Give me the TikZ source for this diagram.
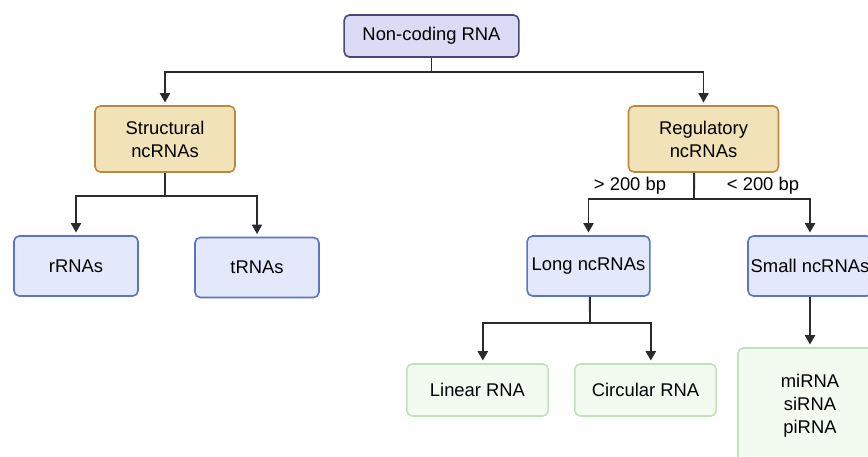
\documentclass[tikz,border=0pt]{standalone}
\usepackage{fontspec}
\setmainfont{Liberation Sans}
\usetikzlibrary{arrows.meta}

\definecolor{lavfill}{HTML}{DDDAF6}
\definecolor{lavline}{HTML}{4B4775}
\definecolor{sandfill}{HTML}{F2E2B8}
\definecolor{sandline}{HTML}{B98A3E}
\definecolor{bluefill}{HTML}{E3E8FA}
\definecolor{blueline}{HTML}{5A74C8}
\definecolor{greenfill}{HTML}{F3FBF1}
\definecolor{greenline}{HTML}{BFE3B8}
\definecolor{wire}{HTML}{2B2B2B}

\begin{document}
\begin{tikzpicture}[x=0.75pt, y=-0.75pt, font=\fontsize{13.8}{17.25}\selectfont,
  box/.style={rounded corners=4pt, line width=1.2pt, align=center, inner sep=2pt},
  rootbox/.style={box, fill=lavfill, draw=lavline},
  classbox/.style={box, fill=sandfill, draw=sandline},
  typebox/.style={box, fill=bluefill, draw=blueline},
  leafbox/.style={box, fill=greenfill, draw=greenline},
  conn/.style={draw=wire, line width=1.4pt, -{Triangle[width=7.5pt, length=7pt]}, shorten >=2pt},
  stem/.style={draw=wire, line width=1.4pt}]
  \useasboundingbox (0,0) rectangle (868,457);

  % boxes
  \node[rootbox, minimum width=131pt, minimum height=31.5pt] (ncrna) at (431.5,36) {Non-coding RNA};
  \node[classbox, minimum width=105pt, minimum height=49.5pt] (struct) at (165,139) {Structural\\ncRNAs};
  \node[classbox, minimum width=112.5pt, minimum height=49.5pt] (reg) at (703.5,139) {Regulatory\\ncRNAs};
  \node[typebox, minimum width=93pt, minimum height=45pt] (rrna) at (76,266) {rRNAs};
  \node[typebox, minimum width=93pt, minimum height=45pt] (trna) at (257,267.5) {tRNAs};
  \node[typebox, minimum width=92pt, minimum height=45pt] (long) at (588.5,266) {Long ncRNAs};
  \node[typebox, minimum width=93pt, minimum height=45pt] (small) at (810,266) {Small ncRNAs};
  \node[leafbox, minimum width=106pt, minimum height=39pt] (linear) at (477.5,390) {Linear RNA};
  \node[leafbox, minimum width=106pt, minimum height=39pt] (circ) at (645.5,390) {Circular RNA};
  \node[leafbox, minimum width=108pt, minimum height=87pt] (sncs) at (810,406) {miRNA\\siRNA\\piRNA};

  % branch points
  \coordinate (top) at (431.5,72);
  \coordinate (sfork) at (165,196);
  \coordinate (rfork) at (694,199);
  \coordinate (lfork) at (590,323);

  \draw[stem] (ncrna.south) -- (top);
  \draw[conn] (top) -| (struct.north);
  \draw[conn] (top) -| (reg.north);

  \draw[stem] (struct.south) -- (sfork);
  \draw[conn] (sfork) -| (rrna.north);
  \draw[conn] (sfork) -| (trna.north);

  \draw[stem] ([xshift=-7pt]reg.south) -- (rfork);
  \draw[conn] (rfork) -| (long.north);
  \draw[conn] (rfork) -| (small.north);
  \node (gt) at (630,186) {> 200 bp};
  \node (lt) at (763,186) {< 200 bp};

  \draw[stem] ([xshift=1pt]long.south) -- (lfork);
  \draw[conn] (lfork) -| ([xshift=4pt]linear.north);
  \draw[conn] (lfork) -| ([xshift=4pt]circ.north);

  \draw[conn] (small.south) -- (sncs.north);
\end{tikzpicture}
\end{document}
